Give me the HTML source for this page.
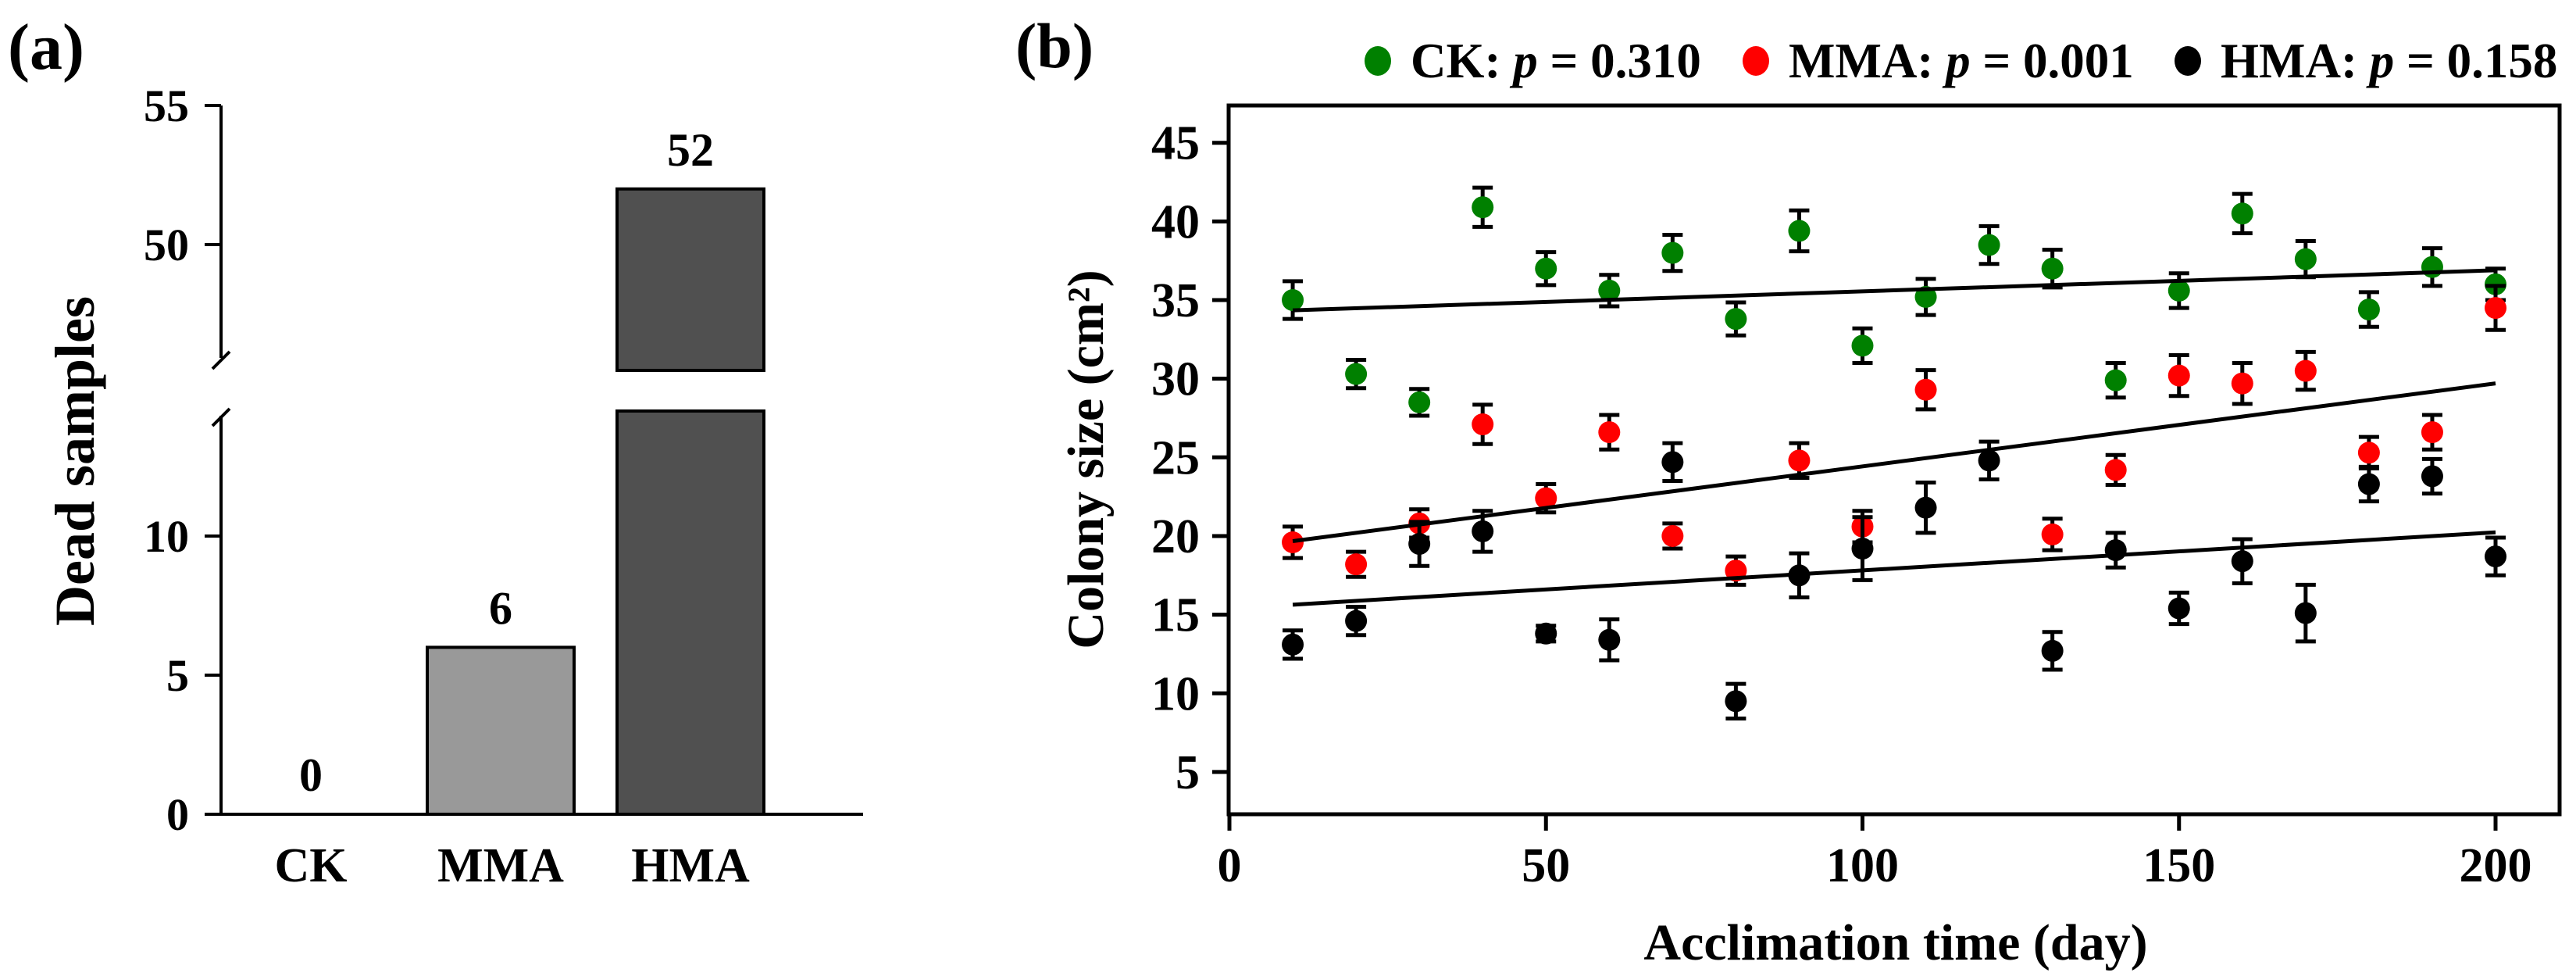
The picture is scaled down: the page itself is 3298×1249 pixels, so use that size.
<!DOCTYPE html>
<html><head><meta charset="utf-8"><style>
html,body{margin:0;padding:0;background:#fff;}
svg{display:block;font-family:"Liberation Serif","Times New Roman",serif;font-weight:bold;}
</style></head><body>
<svg id="fig" width="3298" height="1249" viewBox="0 0 3298 1249" xmlns="http://www.w3.org/2000/svg">
<g id="pa"></g>
<g id="pb"></g>
</svg>
<script>
// ---- Panel A data ----
const barCats = ["CK","MMA","HMA"];
const barVals = [0, 6, 52];
const barFills = ["#ffffff","#999999","#505050"];
const aTicksLow = [0,5,10];
const aTicksHigh = [50,55];
// ---- Panel B data ----
const days = [10,20,30,40,50,60,70,80,90,100,110,120,130,140,150,160,170,180,190,200];
const ckVals = [35.0,30.3,28.5,40.9,37.0,35.6,38.0,33.8,39.4,32.1,35.2,38.5,37.0,29.9,35.6,40.5,37.6,34.4,37.1,36.0];
const ckErr  = [1.2,0.9,0.85,1.25,1.05,1.0,1.15,1.05,1.3,1.1,1.15,1.2,1.2,1.1,1.1,1.25,1.15,1.1,1.2,1.0];
const mmaDays = [10,20,30,40,50,60,70,80,90,100,110,130,140,150,160,170,180,190,200];
const mmaVals = [19.6,18.2,20.8,27.1,22.4,26.6,20.0,17.8,24.8,20.6,29.3,20.1,24.2,30.2,29.7,30.5,25.3,26.6,34.5];
const mmaErr  = [1.0,0.8,0.9,1.25,0.9,1.1,0.8,0.9,1.1,1.0,1.25,1.0,0.95,1.3,1.3,1.2,1.0,1.1,1.4];
const hmaVals = [13.1,14.6,19.5,20.3,13.8,13.4,24.7,9.5,17.5,19.2,21.8,24.8,12.7,19.1,15.4,18.4,15.1,23.3,23.8,18.7];
const hmaErr  = [0.9,0.9,1.4,1.3,0.5,1.3,1.2,1.1,1.4,2.0,1.6,1.2,1.2,1.1,1.0,1.4,1.8,1.1,1.1,1.2];
const xTicks = [0,50,100,150,200];
const yTicks = [5,10,15,20,25,30,35,40,45];

const NS="http://www.w3.org/2000/svg";
function mk(parent,tag,attrs,text){const e=document.createElementNS(NS,tag);for(const k in attrs)e.setAttribute(k,attrs[k]);if(text!==undefined)e.textContent=text;parent.appendChild(e);return e;}

// ===== Panel A =====
const pa=document.getElementById('pa');
const aAxisX=283, aBase=1042, aPxU=35.6, aY50=313;
function ayLow(v){return aBase-v*aPxU;}
function ayHigh(v){return aY50-(v-50)*aPxU;}
function ay(v){return v<=14.5?ayLow(v):ayHigh(v);}
function ax(i){return 398+i*243;}
const lowTop=526, highBot=474, axisTop=135;
let t=mk(pa,'text',{x:10,y:88,'font-size':84},'(a)');


barCats.forEach((c,i)=>{
  const v=barVals[i], x=ax(i)-94, w=188;
  if(v>0){
    if(v>14.5){
      let r1=mk(pa,'rect',{x:x,y:lowTop,width:w,height:aBase-lowTop,fill:barFills[i],stroke:'#000','stroke-width':4});
      
      
      let r2=mk(pa,'rect',{x:x,y:ay(v),width:w,height:highBot-ay(v),fill:barFills[i],stroke:'#000','stroke-width':4});
      
      
      mk(pa,'rect',{x:x-3,y:highBot+2,width:w+6,height:lowTop-highBot-4,fill:'#fff'});
    } else {
      let r=mk(pa,'rect',{x:x,y:ay(v),width:w,height:aBase-ay(v),fill:barFills[i],stroke:'#000','stroke-width':4});
      
      
    }
  }
  let vl=mk(pa,'text',{x:ax(i),y:ay(v)-30,'font-size':60,'text-anchor':'middle'},String(v));
  
  
  let cl=mk(pa,'text',{x:ax(i),y:1128,'font-size':62,'text-anchor':'middle'},c);
  
  
});
mk(pa,'line',{x1:aAxisX,y1:axisTop,x2:aAxisX,y2:458,stroke:'#000','stroke-width':4});
mk(pa,'line',{x1:aAxisX,y1:532,x2:aAxisX,y2:aBase,stroke:'#000','stroke-width':4});
mk(pa,'line',{x1:272,y1:472,x2:294,y2:450,stroke:'#000','stroke-width':4});
mk(pa,'line',{x1:272,y1:545,x2:294,y2:523,stroke:'#000','stroke-width':4});
let xa=mk(pa,'line',{x1:262,y1:aBase,x2:1105,y2:aBase,stroke:'#000','stroke-width':4});


aTicksLow.concat(aTicksHigh).forEach(v=>{
  const y=ay(v);
  mk(pa,'line',{x1:262,y1:y,x2:aAxisX,y2:y,stroke:'#000','stroke-width':4});
  let tl=mk(pa,'text',{x:242,y:y+20,'font-size':58,'text-anchor':'end'},String(v));
  
  
});
let at=mk(pa,'text',{x:0,y:0,'font-size':72,'text-anchor':'middle',transform:'translate(120,590) rotate(-90)'},'Dead samples');



// ===== Panel B =====
const pb=document.getElementById('pb');
const bx0=1574, bxPx=8.105, by35=384, byPx=20.13;
function bx(d){return bx0+d*bxPx;}
function by(v){return by35-(v-35)*byPx;}
const frameL=1573, frameR=3277, frameT=135, frameB=1042;
t=mk(pb,'text',{x:1300,y:86,'font-size':82},'(b)');


let fr=mk(pb,'rect',{x:frameL,y:frameT,width:frameR-frameL,height:frameB-frameT,fill:'none',stroke:'#000','stroke-width':5});


xTicks.forEach(v=>{
  mk(pb,'line',{x1:bx(v),y1:frameB,x2:bx(v),y2:1063,stroke:'#000','stroke-width':5});
  let tl=mk(pb,'text',{x:bx(v),y:1128,'font-size':62,'text-anchor':'middle'},String(v));
  
  
});
yTicks.forEach(v=>{
  mk(pb,'line',{x1:1552,y1:by(v),x2:frameL,y2:by(v),stroke:'#000','stroke-width':5});
  let tl=mk(pb,'text',{x:1536,y:by(v)+21,'font-size':62,'text-anchor':'end'},String(v));
  
  
});
let yt=mk(pb,'text',{x:0,y:0,'font-size':66,'text-anchor':'middle',transform:'translate(1412,588) rotate(-90)'},'Colony size (cm²)');


let xt=mk(pb,'text',{x:2427,y:1228,'font-size':66,'text-anchor':'middle'},'Acclimation time (day)');



function fit(xs,ys){const n=xs.length;let sx=0,sy=0,sxx=0,sxy=0;for(let i=0;i<n;i++){sx+=xs[i];sy+=ys[i];sxx+=xs[i]*xs[i];sxy+=xs[i]*ys[i];}const b=(n*sxy-sx*sy)/(n*sxx-sx*sx);return [ (sy-b*sx)/n, b];}
function series(name,xs,ys,es,color){
  const g=mk(pb,'g',{});
  
  
  xs.forEach((d,i)=>{
    const x=bx(d), y1=by(ys[i]+es[i]), y2=by(ys[i]-es[i]);
    mk(g,'line',{x1:x,y1:y1,x2:x,y2:y2,stroke:'#000','stroke-width':5});
    mk(g,'line',{x1:x-13,y1:y1,x2:x+13,y2:y1,stroke:'#000','stroke-width':5});
    mk(g,'line',{x1:x-13,y1:y2,x2:x+13,y2:y2,stroke:'#000','stroke-width':5});
    const c=mk(g,'circle',{cx:x,cy:by(ys[i]),r:14,fill:color});
    
    
  });
  const [a,b]=fit(xs,ys);
  const l=mk(pb,'line',{x1:bx(xs[0]),y1:by(a+b*xs[0]),x2:bx(xs[xs.length-1]),y2:by(a+b*xs[xs.length-1]),stroke:'#000','stroke-width':5});
  
  
}
series('ck',days,ckVals,ckErr,'#008000');
series('mma',mmaDays,mmaVals,mmaErr,'#ff0000');
series('hma',days,hmaVals,hmaErr,'#000000');

const leg=mk(pb,'g',{});


[[1764,'#008000','CK','0.310'],[2248,'#ff0000','MMA','0.001'],[2801,'#000000','HMA','0.158']].forEach(e=>{
  const d=mk(leg,'ellipse',{cx:e[0],cy:78,rx:17,ry:19,fill:e[1]});
  
  
  const tx=mk(leg,'text',{x:e[0]+42,y:99,'font-size':63});
  
  
  mk(tx,'tspan',{},e[2]+': ');
  mk(tx,'tspan',{'font-style':'italic'},'p');
  mk(tx,'tspan',{},' = '+e[3]);
});
</script>
</body></html>
